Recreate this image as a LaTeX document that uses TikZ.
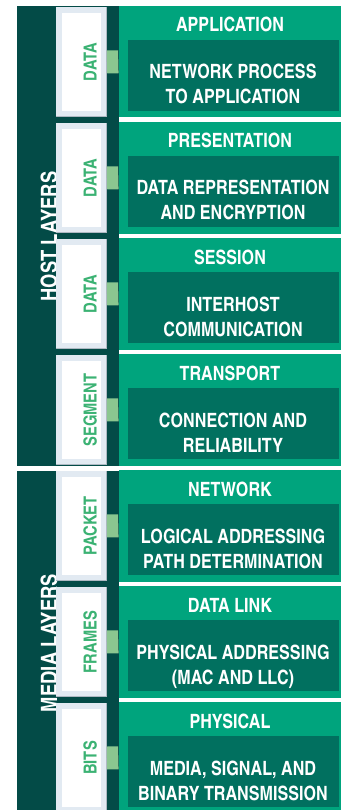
\documentclass[tikz,border=0pt]{standalone}
\usepackage{fontspec}
\newfontfamily\cnb{texgyreheroscn-bold}[Extension=.otf]
\definecolor{bandbg}{HTML}{034B47}
\definecolor{layerbg}{HTML}{00A47D}
\definecolor{innerbg}{HTML}{01705F}
\definecolor{linkbg}{HTML}{8BC690}
\definecolor{pdurim}{HTML}{E2EAF2}
\definecolor{pduedge}{HTML}{AEB9C3}
\definecolor{pdutext}{HTML}{3BB273}
\begin{document}
\begin{tikzpicture}[x=1pt,y=-1pt,
  band/.style={fill=bandbg, inner sep=0pt, minimum width=101.5pt},
  bandlabel/.style={text=white, font=\cnb\fontsize{22.5}{26}\selectfont, anchor=base, rotate=90, inner sep=0pt},
  pdubox/.style={draw=pdurim, line width=6pt, fill=white, minimum width=45pt, minimum height=104pt, inner sep=0pt},
  pduedge/.style={draw=pduedge, line width=0.8pt},
  pdulabel/.style={text=pdutext, font=\cnb\fontsize{18}{22}\selectfont, anchor=base, rotate=90, inner sep=0pt},
  link/.style={draw=linkbg, line width=23pt},
  layer/.style={fill=layerbg, inner sep=0pt, minimum width=222.5pt, minimum height=111.5pt},
  inner/.style={fill=innerbg, inner sep=0pt, minimum width=211.5pt, minimum height=71pt},
  layertitle/.style={text=white, font=\cnb\fontsize{19.7}{23}\selectfont, anchor=base, inner sep=0pt},
  layerbody/.style={text=white, font=\cnb\fontsize{19.7}{25}\selectfont, anchor=base, align=center, inner sep=0pt}
]
\useasboundingbox (0,0) rectangle (342,810);
\clip (0,0) rectangle (342,810);

% the two layer groups
\node[band, minimum height=459.5pt] (host)  at (67.75,235.75) {};
\node[band, minimum height=339.5pt] (media) at (67.75,640.25) {};
\node[bandlabel] (hostlbl)  at (57,236.5) {HOST LAYERS};
\node[bandlabel] (medialbl) at (57,643) {MEDIA LAYERS};

% the seven layers, top to bottom
\foreach \i/\ttl/\bdy/\pdu in {
  0/APPLICATION/{NETWORK PROCESS\\TO APPLICATION}/DATA,
  1/PRESENTATION/{DATA REPRESENTATION\\AND ENCRYPTION}/DATA,
  2/SESSION/{INTERHOST\\COMMUNICATION}/DATA,
  3/TRANSPORT/{CONNECTION AND\\RELIABILITY}/SEGMENT,
  4/NETWORK/{LOGICAL ADDRESSING\\PATH DETERMINATION}/PACKET,
  5/DATA LINK/{PHYSICAL ADDRESSING\\(MAC AND LLC)}/FRAMES,
  6/PHYSICAL/{MEDIA, SIGNAL, AND\\BINARY TRANSMISSION}/BITS}{
  \pgfmathsetmacro{\top}{6+116*\i}
  % data unit box
  \node[pdubox] (pdu\i) at (81.5,\top+56) {};
  \draw[pduedge] ([shift={(-0.4,0)}]pdu\i.north east) -- ([shift={(-0.4,-0.4)}]pdu\i.south east) -- ([shift={(0,-0.4)}]pdu\i.south west);
  \node[pdulabel] (pdulbl\i) at (96.5,\top+56) {\pdu};
  % layer panel
  \node[layer] (layer\i) at (229.75,\top+55.75) {};
  \draw[link] (pdu\i.east) -- (layer\i.west);
  \node[inner] (inner\i) at (233.25,\top+69.5) {};
  \node[layertitle] (title\i) at (230,\top+26) {\ttl};
  \node[layerbody] (body\i) at (233,\top+98) {\bdy};
}
\end{tikzpicture}
\end{document}
